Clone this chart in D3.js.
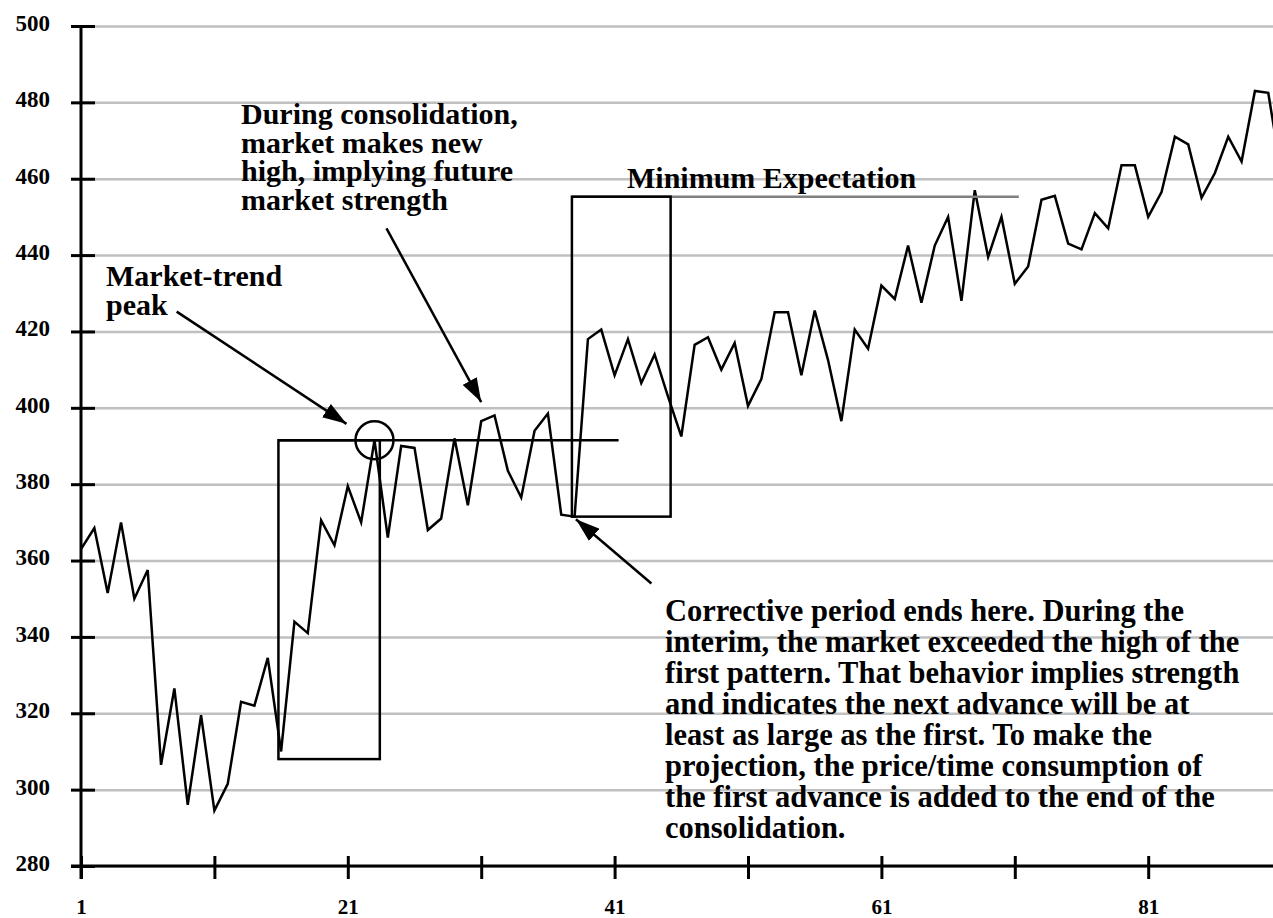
<!DOCTYPE html>
<html>
<head>
<meta charset="utf-8">
<script src="https://cdn.jsdelivr.net/npm/d3@7"></script>
<style>
  html, body { margin: 0; padding: 0; background: #fff; }
  svg { display: block; font-family: "Liberation Serif", "Times New Roman", serif; font-weight: bold; }
</style>
</head>
<body>
<svg id="chart" width="1273" height="918"></svg>
<script>
// price series, one value per period starting at 1
const prices = [
  363, 368.5, 351.5, 370, 350, 357.5, 306.5, 326.5, 296, 319.5,
  294.5, 301.5, 323, 322, 334.5, 310, 344, 341, 370.5, 364,
  379.5, 370, 391.5, 366, 390, 389.5, 368, 371, 392, 374.5,
  396.5, 398, 383.5, 376.5, 394, 398.5, 372, 371.5, 418, 420.5,
  408.5, 418, 406.5, 414, 403, 392.5, 416.5, 418.5, 410, 417,
  400.5, 407.5, 425, 425, 408.5, 425.5, 412.5, 396.5, 420.5, 415.5,
  432, 428.5, 442.5, 427.5, 442.5, 450, 428, 457, 439.5, 450,
  432.5, 437, 454.5, 455.5, 443, 441.5, 451, 447, 463.5, 463.5,
  450, 456.5, 471, 469, 455, 461.5, 471, 464.5, 483, 482.5,
  461
];
const periods = prices.map((d, i) => i + 1);

const yTicks = [280, 300, 320, 340, 360, 380, 400, 420, 440, 460, 480, 500];
const xTicks = [1, 11, 21, 31, 41, 51, 61, 71, 81];
const xLabels = [1, 21, 41, 61, 81];

// annotation boxes (period / price units)
const firstAdvance = [15.8, 23.4, 308, 391.5];
const projection = [37.8, 45.2, 371.5, 455.3];
const peakLine = [15.8, 41.3, 391.5];
const minLine = [37.8, 71.3, 455.3];
const peakPoint = [23, 391.5];

const svg = d3.select("#chart");

const x = d3.scaleLinear().domain([1, 91]).range([81, 81 + 90 * 13.34]);
const y = d3.scaleLinear().domain([280, 500]).range([866, 26]);

// arrow head
svg.append("defs").append("marker")
  .attr("id", "head")
  .attr("markerUnits", "userSpaceOnUse")
  .attr("viewBox", "0 0 24 16")
  .attr("refX", 24).attr("refY", 8)
  .attr("markerWidth", 24).attr("markerHeight", 16)
  .attr("orient", "auto")
  .append("path").attr("d", "M0,0 L24,8 L0,16 Z").attr("fill", "#000");

// gridlines
svg.append("g")
  .attr("transform", `translate(${x(1)},0)`)
  .call(d3.axisLeft(y).tickValues(yTicks).tickSize(-1300).tickFormat(""))
  .call(g => g.select(".domain").remove())
  .call(g => g.selectAll("line").attr("stroke", "#c0c0c0").attr("stroke-width", 2.5));

// price line
const line = d3.line().x((d, i) => x(periods[i])).y(d => y(d));
svg.append("path")
  .datum(prices)
  .attr("d", line)
  .attr("fill", "none")
  .attr("stroke", "#000")
  .attr("stroke-width", 2.5)
  .attr("stroke-linejoin", "miter");

// minimum expectation line
svg.append("line")
  .attr("x1", x(minLine[0])).attr("x2", x(minLine[1]))
  .attr("y1", y(minLine[2])).attr("y2", y(minLine[2]))
  .attr("stroke", "#808080").attr("stroke-width", 2.5);

// peak level line
svg.append("line")
  .attr("x1", x(peakLine[0])).attr("x2", x(peakLine[1]))
  .attr("y1", y(peakLine[2])).attr("y2", y(peakLine[2]))
  .attr("stroke", "#000").attr("stroke-width", 2.5);

// boxes
[firstAdvance, projection].forEach(b => {
  svg.append("rect")
    .attr("x", x(b[0])).attr("y", y(b[3]))
    .attr("width", x(b[1]) - x(b[0]))
    .attr("height", y(b[2]) - y(b[3]))
    .attr("fill", "none").attr("stroke", "#000").attr("stroke-width", 2.5);
});

// peak circle
svg.append("circle")
  .attr("cx", x(peakPoint[0])).attr("cy", y(peakPoint[1]))
  .attr("r", 19)
  .attr("fill", "none").attr("stroke", "#000").attr("stroke-width", 2.5);

// arrows: [fromPeriod, fromPrice, toPeriod, toPrice]
const arrows = [
  [8.17, 425.2, 20.9, 395.8],
  [23.9, 447.0, 31.0, 401.5],
  [43.76, 354.0, 38.1, 370.8]
];
svg.selectAll(".arrow").data(arrows).enter().append("line")
  .attr("class", "arrow")
  .attr("x1", d => x(d[0])).attr("y1", d => y(d[1]))
  .attr("x2", d => x(d[2])).attr("y2", d => y(d[3]))
  .attr("stroke", "#000").attr("stroke-width", 2.5)
  .attr("marker-end", "url(#head)");

// axes
const yAxis = svg.append("g")
  .attr("transform", `translate(${x(1)},0)`)
  .call(d3.axisLeft(y).tickValues(yTicks).tickSize(10).tickPadding(0));
yAxis.select(".domain").attr("d", `M0,${y(500)}V${y(280) + 13}`).attr("stroke-width", 3);
yAxis.selectAll(".tick line").attr("x1", 14).attr("x2", -10).attr("stroke-width", 3);
yAxis.selectAll(".tick text")
  .attr("x", -31)
  .attr("dy", "0.19em")
  .style("font-family", "Liberation Serif, Times New Roman, serif")
  .style("font-weight", "bold")
  .style("font-size", "23px");

const xAxis = svg.append("g")
  .attr("transform", `translate(0,${y(280)})`)
  .call(d3.axisBottom(x).tickValues(xTicks).tickSize(13)
    .tickFormat(d => xLabels.includes(d) ? d : ""));
xAxis.select(".domain").attr("d", `M${x(1) - 10},0H1273`).attr("stroke-width", 3);
xAxis.selectAll(".tick line").attr("y1", -10).attr("y2", 13).attr("stroke-width", 3);
xAxis.selectAll(".tick text")
  .attr("y", 33)
  .style("font-family", "Liberation Serif, Times New Roman, serif")
  .style("font-weight", "bold")
  .style("font-size", "21px");

// annotation text
function block(lines, x0, y0, step, size) {
  const t = svg.append("text").attr("font-size", size).attr("fill", "#000");
  lines.forEach((s, i) => {
    t.append("tspan").attr("x", x0).attr("y", y0 + i * step).text(s);
  });
}
block(["During consolidation,", "market makes new", "high, implying future", "market strength"], 241, 124, 28.7, 30);
block(["Market-trend", "peak"], 106, 286, 28.5, 30);
block(["Minimum Expectation"], 627, 188, 0, 30);
block([
  "Corrective period ends here. During the",
  "interim, the market exceeded the high of the",
  "first pattern. That behavior implies strength",
  "and indicates the next advance will be at",
  "least as large as the first. To make the",
  "projection, the price/time consumption of",
  "the first advance is added to the end of the",
  "consolidation."
], 665, 621, 31, 30.5);
</script>
</body>
</html>
